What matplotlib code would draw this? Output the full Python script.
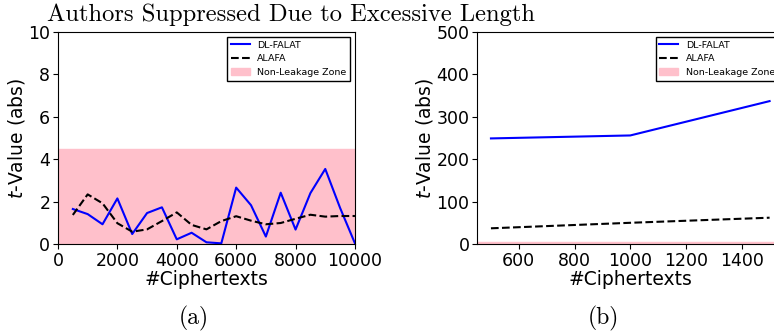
import matplotlib
matplotlib.use("Agg")
import matplotlib.pyplot as plt

# panel (a): t-values over number of ciphertexts
x_a = [500, 1000, 1500, 2000, 2500, 3000, 3500, 4000, 4500, 5000,
       5500, 6000, 6500, 7000, 7500, 8000, 8500, 9000, 9500, 10000]
dl_falat_a = [1.65, 1.41, 0.93, 2.15, 0.47, 1.46, 1.73, 0.22, 0.53, 0.08,
              0.03, 2.66, 1.83, 0.35, 2.42, 0.68, 2.40, 3.54, 1.70, 0.03]
alafa_a = [1.37, 2.34, 1.92, 0.98, 0.58, 0.69, 1.08, 1.49, 0.90, 0.69,
           1.08, 1.31, 1.10, 0.93, 0.99, 1.19, 1.38, 1.29, 1.32, 1.32]

# panel (b)
x_b = [500, 1000, 1500]
dl_falat_b = [249, 256, 337]
alafa_b = [37, 50, 62]

threshold = 4.5
title = "Authors Suppressed Due to Excessive Length"

fig = plt.figure(figsize=(7.74, 3.33), dpi=100)
ax1 = fig.add_axes([0.0749, 0.2673, 0.3837, 0.6366])
ax2 = fig.add_axes([0.6163, 0.2673, 0.396, 0.6366])

def draw(ax, x, y1, y2, xlim, ylim, xticks, yticks):
    ax.axhspan(0, threshold, color="pink", label="Non-Leakage Zone", zorder=0)
    ax.plot(x, y1, color="blue", lw=1.5, label="DL-FALAT")
    ax.plot(x, y2, color="black", ls="--", lw=1.5, label="ALAFA")
    ax.set_xlim(*xlim)
    ax.set_ylim(*ylim)
    ax.set_xticks(xticks)
    ax.set_yticks(yticks)
    ax.tick_params(labelsize=12.5, pad=2)
    ax.set_xlabel("#Ciphertexts", fontsize=13.5, labelpad=0)
    ax.set_ylabel("$t$-Value (abs)", fontsize=13.5, labelpad=1)
    h, l = ax.get_legend_handles_labels()
    order = [1, 2, 0]
    ax.legend([h[i] for i in order], [l[i] for i in order], loc="upper right",
              fontsize=6.8, fancybox=False, edgecolor="black", framealpha=1)

draw(ax1, x_a, dl_falat_a, alafa_a, (0, 10000), (0, 10),
     [0, 2000, 4000, 6000, 8000, 10000], [0, 2, 4, 6, 8, 10])
draw(ax2, x_b, dl_falat_b, alafa_b, (450, 1550), (0, 500),
     [600, 800, 1000, 1200, 1400], [0, 100, 200, 300, 400, 500])

fig.text(47 / 774, 1 - 21 / 333, title, fontfamily="cmr10", fontsize=17.7,
         va="baseline", ha="left")
fig.text(194 / 774, 1 - 318 / 333, "(a)", fontfamily="cmr10", fontsize=17,
         ha="center", va="center")
fig.text(603 / 774, 1 - 318 / 333, "(b)", fontfamily="cmr10", fontsize=17,
         ha="center", va="center")

fig.savefig("out.png", dpi=100)
